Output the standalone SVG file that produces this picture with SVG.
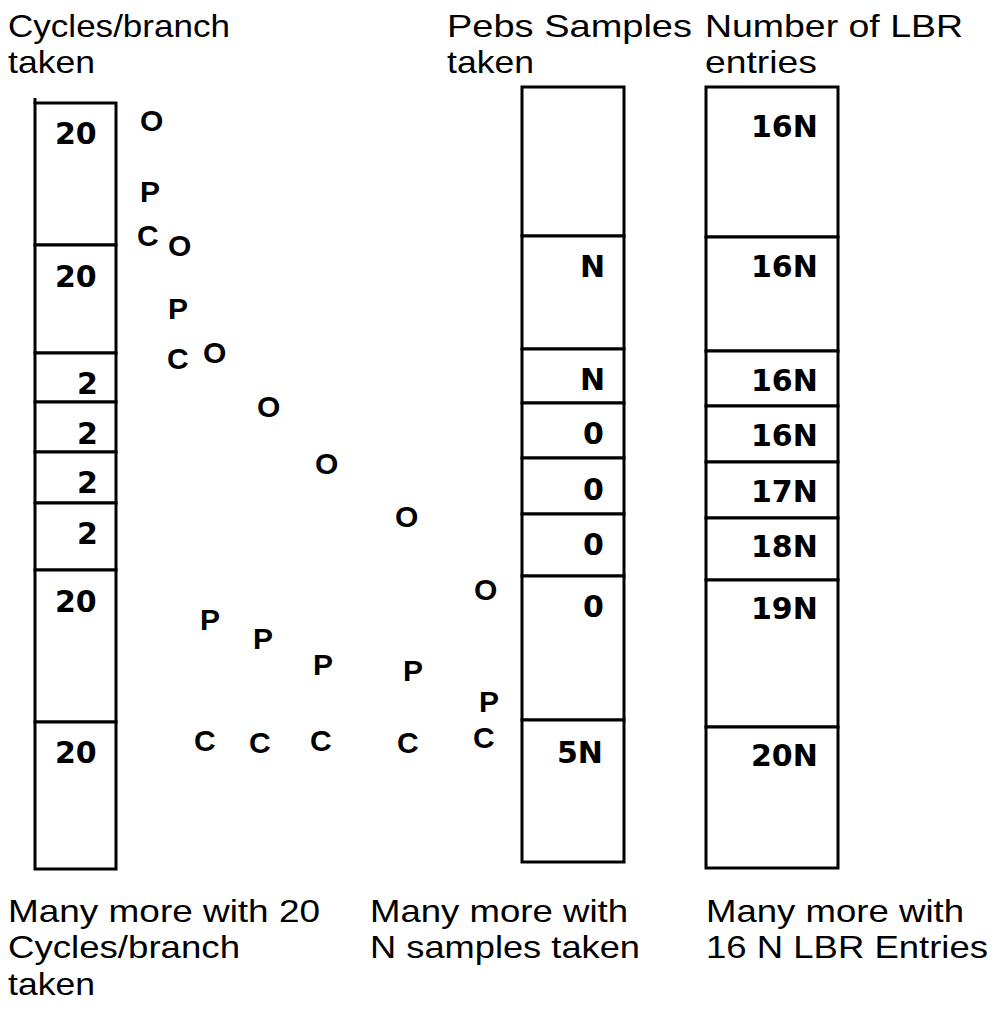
<svg xmlns="http://www.w3.org/2000/svg" width="999" height="1012" viewBox="0 0 999 1012">
<style>
.cell{fill:#fff;stroke:#000;stroke-width:3}
.hd{font-family:"Liberation Sans",Arial,sans-serif;font-size:32px;fill:#000}
.val{font-family:"DejaVu Sans",sans-serif;font-weight:bold;font-size:30px;fill:#000}
.ltr{font-family:"Liberation Sans",Arial,sans-serif;font-weight:bold;font-size:30px;fill:#000}
</style>
<rect width="999" height="1012" fill="#fff"/>
<g id="headers">
<text class="hd" x="8" y="37" textLength="222" lengthAdjust="spacingAndGlyphs">Cycles/branch</text>
<text class="hd" x="8" y="73" textLength="87" lengthAdjust="spacingAndGlyphs">taken</text>
<text class="hd" x="447" y="37" textLength="245" lengthAdjust="spacingAndGlyphs">Pebs Samples</text>
<text class="hd" x="447" y="73" textLength="87" lengthAdjust="spacingAndGlyphs">taken</text>
<text class="hd" x="705" y="37" textLength="258" lengthAdjust="spacingAndGlyphs">Number of LBR</text>
<text class="hd" x="705" y="73" textLength="112" lengthAdjust="spacingAndGlyphs">entries</text>
</g>
<g id="cycles-column">
<line x1="35" y1="98" x2="35" y2="104" stroke="#000" stroke-width="3"/>
<g id="c1"><rect class="cell" x="35" y="103" width="81" height="142"/><text class="val" x="55" y="144">20</text></g>
<g id="c2"><rect class="cell" x="35" y="245" width="81" height="108"/><text class="val" x="55" y="287">20</text></g>
<g id="c3"><rect class="cell" x="35" y="353" width="81" height="49"/><text class="val" x="77" y="394">2</text></g>
<g id="c4"><rect class="cell" x="35" y="402" width="81" height="50"/><text class="val" x="77" y="444">2</text></g>
<g id="c5"><rect class="cell" x="35" y="452" width="81" height="51"/><text class="val" x="77" y="493">2</text></g>
<g id="c6"><rect class="cell" x="35" y="503" width="81" height="67"/><text class="val" x="77" y="544">2</text></g>
<g id="c7"><rect class="cell" x="35" y="570" width="81" height="152"/><text class="val" x="55" y="612">20</text></g>
<g id="c8"><rect class="cell" x="35" y="722" width="81" height="147"/><text class="val" x="55" y="763">20</text></g>
</g>
<g id="pebs-column">
<g id="p1"><rect class="cell" x="522" y="87" width="102" height="149"/></g>
<g id="p2"><rect class="cell" x="522" y="236" width="102" height="113"/><text class="val" x="580" y="277">N</text></g>
<g id="p3"><rect class="cell" x="522" y="349" width="102" height="54"/><text class="val" x="580" y="390">N</text></g>
<g id="p4"><rect class="cell" x="522" y="403" width="102" height="55"/><text class="val" x="583" y="444">0</text></g>
<g id="p5"><rect class="cell" x="522" y="458" width="102" height="56"/><text class="val" x="583" y="500">0</text></g>
<g id="p6"><rect class="cell" x="522" y="514" width="102" height="62"/><text class="val" x="583" y="555">0</text></g>
<g id="p7"><rect class="cell" x="522" y="576" width="102" height="144"/><text class="val" x="583" y="617">0</text></g>
<g id="p8"><rect class="cell" x="522" y="720" width="102" height="142"/><text class="val" x="557" y="763">5N</text></g>
</g>
<g id="lbr-column">
<g id="l1"><rect class="cell" x="706" y="87" width="132" height="150"/><text class="val" x="751" y="137">16N</text></g>
<g id="l2"><rect class="cell" x="706" y="237" width="132" height="114"/><text class="val" x="751" y="277">16N</text></g>
<g id="l3"><rect class="cell" x="706" y="351" width="132" height="55"/><text class="val" x="751" y="391">16N</text></g>
<g id="l4"><rect class="cell" x="706" y="406" width="132" height="56"/><text class="val" x="751" y="446">16N</text></g>
<g id="l5"><rect class="cell" x="706" y="462" width="132" height="56"/><text class="val" x="751" y="502">17N</text></g>
<g id="l6"><rect class="cell" x="706" y="518" width="132" height="62"/><text class="val" x="751" y="557">18N</text></g>
<g id="l7"><rect class="cell" x="706" y="580" width="132" height="147"/><text class="val" x="751" y="619">19N</text></g>
<g id="l8"><rect class="cell" x="706" y="727" width="132" height="141"/><text class="val" x="751" y="766">20N</text></g>
</g>
<g id="letters">
<text class="ltr" x="140" y="131">O</text>
<text class="ltr" x="140" y="202">P</text>
<text class="ltr" x="137" y="246">C</text>
<text class="ltr" x="168" y="256">O</text>
<text class="ltr" x="168" y="319">P</text>
<text class="ltr" x="167" y="369">C</text>
<text class="ltr" x="203" y="363">O</text>
<text class="ltr" x="257" y="417">O</text>
<text class="ltr" x="315" y="474">O</text>
<text class="ltr" x="395" y="527">O</text>
<text class="ltr" x="474" y="600">O</text>
<text class="ltr" x="200" y="630">P</text>
<text class="ltr" x="253" y="649">P</text>
<text class="ltr" x="313" y="675">P</text>
<text class="ltr" x="403" y="681">P</text>
<text class="ltr" x="479" y="712">P</text>
<text class="ltr" x="194" y="751">C</text>
<text class="ltr" x="249" y="753">C</text>
<text class="ltr" x="310" y="751">C</text>
<text class="ltr" x="397" y="753">C</text>
<text class="ltr" x="473" y="748">C</text>
</g>
<g id="footers">
<text class="hd" x="8" y="922" textLength="312" lengthAdjust="spacingAndGlyphs">Many more with 20</text>
<text class="hd" x="8" y="958" textLength="232" lengthAdjust="spacingAndGlyphs">Cycles/branch</text>
<text class="hd" x="8" y="995" textLength="87" lengthAdjust="spacingAndGlyphs">taken</text>
<text class="hd" x="370" y="922" textLength="258" lengthAdjust="spacingAndGlyphs">Many more with</text>
<text class="hd" x="370" y="958" textLength="270" lengthAdjust="spacingAndGlyphs">N samples taken</text>
<text class="hd" x="706" y="922" textLength="258" lengthAdjust="spacingAndGlyphs">Many more with</text>
<text class="hd" x="706" y="958" textLength="282" lengthAdjust="spacingAndGlyphs">16 N LBR Entries</text>
</g>
</svg>
